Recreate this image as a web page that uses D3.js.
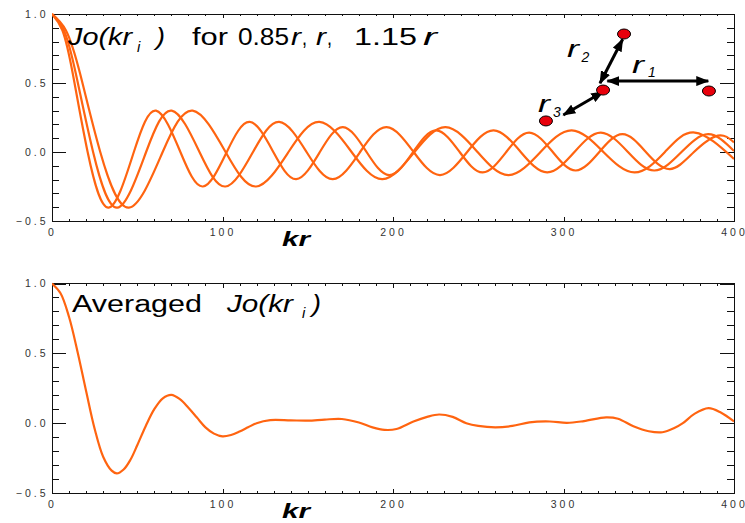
<!DOCTYPE html>
<html>
<head>
<meta charset="utf-8">
<script src="https://cdn.jsdelivr.net/npm/d3@7"></script>
<style>
  body { margin: 0; background: #fff; }
  svg { display: block; font-family: "Liberation Sans", Arial, sans-serif; }
</style>
</head>
<body>
<svg id="chart" width="745" height="523"></svg>
<script>
// ---- datos ----
const xTicks = [0, 100, 200, 300, 400];
const yTicks = [-0.5, 0, 0.5, 1.0];

// Jo(kr) para 0.85r
const kr085 = [0, 8.2, 16.5, 28.3, 45.1, 64.9, 82.5, 101.8, 119.7, 138.7, 156.8, 175.7, 193.8, 212.6,
  230.8, 249.6, 267.8, 286.5, 304.8, 323.4, 341.7, 359.5, 377.0, 400];
const j085 = [1, 0.881, 0.567, 0, -0.403, 0, 0.300, 0, -0.250, 0, 0.218, 0, -0.197, 0,
  0.180, 0, -0.167, 0, 0.157, 0, -0.148, 0, 0.141, -0.050];

// Jo(kr) para r
const kr100 = [0, 7, 14, 24.1, 38.3, 55.2, 70.2, 86.5, 101.7, 117.9, 133.2, 149.3, 164.7, 180.7,
  196.2, 212.1, 227.6, 243.5, 259.0, 274.9, 290.5, 306.4, 321.9, 337.8, 353.3, 369.2, 384.8, 400];
const j100 = [1, 0.881, 0.567, 0, -0.403, 0, 0.300, 0, -0.250, 0, 0.218, 0, -0.197, 0,
  0.180, 0, -0.167, 0, 0.157, 0, -0.148, 0, 0.141, 0, -0.134, 0, 0.129, 0.007];

// Jo(kr) para 1.15r
const kr115 = [0, 6.1, 12.2, 20.9, 33.3, 48.0, 61.0, 75.3, 88.5, 102.5, 115.9, 129.8, 143.2, 157.1,
  170.6, 184.5, 197.9, 211.8, 225.3, 239.1, 252.6, 266.4, 279.9, 293.7, 307.2, 321.0, 334.6, 348.3,
  362.3, 376.5, 390.5, 400];
const j115 = [1, 0.881, 0.567, 0, -0.403, 0, 0.300, 0, -0.250, 0, 0.218, 0, -0.197, 0,
  0.180, 0, -0.167, 0, 0.157, 0, -0.148, 0, 0.141, 0, -0.134, 0, 0.129, 0,
  -0.124, 0, 0.119, 0.070];

// promedio
const krAvg = [0, 5, 10, 15, 20, 25, 30, 35, 38, 42, 46, 50, 55, 60, 65, 70, 75, 80, 85, 90,
  95, 100, 105, 110, 115, 120, 128, 140, 150, 160, 170, 180, 188, 195, 202, 212, 220, 227, 235, 243,
  250, 260, 270, 280, 292, 302, 312, 325, 332, 341, 350, 358, 365, 370, 377, 385, 392, 400];
const jAvg = [1.0, 0.93, 0.76, 0.51, 0.23, -0.04, -0.24, -0.34, -0.36, -0.332, -0.262, -0.158, -0.02, 0.10, 0.178, 0.203, 0.172, 0.11, 0.04, -0.03,
  -0.075, -0.095, -0.085, -0.06, -0.03, 0.0, 0.022, 0.02, 0.018, 0.026, 0.03, 0.005, -0.03, -0.048, -0.042, 0.012, 0.045, 0.062, 0.045, 0.0,
  -0.02, -0.03, -0.02, 0.006, 0.012, 0.002, 0.015, 0.042, 0.032, -0.022, -0.058, -0.065, -0.035, 0.0, 0.068, 0.107, 0.078, 0.012];

// esquema de sensores (en unidades del panel superior: kr, valor)
const dots = [[335.5, 0.855], [323.2, 0.449], [385.3, 0.442], [289.7, 0.225]];
const arrows = [
  [[325.7, 0.514], [384.9, 0.514]],
  [[321.4, 0.498], [334.7, 0.817]],
  [[299.9, 0.268], [323.3, 0.437]]
];
const rLabels = [
  { name: "2", at: [302.1, 0.688], sub: [310.6, 0.652] },
  { name: "1", at: [340.2, 0.569], sub: [349.6, 0.543] },
  { name: "3", at: [285.0, 0.293], sub: [293.8, 0.254] }
];

const lineColor = "#ff6410";
const svg = d3.select("#chart");
const X0 = 52, X1 = 734;

function drawPanel(top, bottom, idx) {
  const x = d3.scaleLinear().domain([0, 400]).range([X0, X1]);
  const y = d3.scaleLinear().domain([-0.5, 1]).range([bottom, top]);
  const g = svg.append("g");

  g.append("clipPath").attr("id", "clip" + idx)
    .append("rect").attr("x", X0).attr("y", top - 2)
    .attr("width", X1 - X0).attr("height", bottom - top + 4);

  // ejes: marcas hacia adentro
  const axes = g.append("g").attr("color", "#111").attr("shape-rendering", "crispEdges");
  const xMinor = d3.range(0, 401, 10);
  const yMinor = d3.range(-5, 11).map(d => d / 10);

  axes.append("g").attr("transform", `translate(0,${bottom})`)
    .call(d3.axisBottom(x).tickValues(xMinor).tickSize(-2).tickFormat(""));
  axes.append("g").attr("transform", `translate(0,${top})`)
    .call(d3.axisTop(x).tickValues(xMinor).tickSize(-2).tickFormat(""));
  axes.append("g").attr("transform", `translate(0,${top})`)
    .call(d3.axisTop(x).tickValues(xTicks).tickSize(-4).tickFormat(""));
  const xb = axes.append("g").attr("transform", `translate(0,${bottom})`)
    .call(d3.axisBottom(x).tickValues(xTicks).tickSize(-4).tickFormat(d3.format("d")));
  xb.selectAll("text").attr("y", 14.5).attr("dy", null);

  axes.append("g").attr("transform", `translate(${X0},0)`)
    .call(d3.axisLeft(y).tickValues(yMinor).tickSize(-6.8).tickFormat(""));
  axes.append("g").attr("transform", `translate(${X1},0)`)
    .call(d3.axisRight(y).tickValues(yMinor).tickSize(-6.8).tickFormat(""));
  axes.append("g").attr("transform", `translate(${X1},0)`)
    .call(d3.axisRight(y).tickValues(yTicks).tickSize(-13.6).tickFormat(""));
  const yl = axes.append("g").attr("transform", `translate(${X0},0)`)
    .call(d3.axisLeft(y).tickValues(yTicks).tickSize(-13.6).tickFormat(d3.format(".1f")));
  yl.selectAll("text").attr("x", -3.5);

  axes.selectAll(".domain").remove();
  axes.selectAll("text")
    .attr("font-family", "'Liberation Sans', Arial, sans-serif")
    .attr("font-size", 10.5)
    .attr("letter-spacing", 3)
    .attr("fill", "#333");

  g.append("rect").attr("x", X0).attr("y", top)
    .attr("width", X1 - X0).attr("height", bottom - top)
    .attr("fill", "none").attr("stroke", "#111").attr("stroke-width", 1)
    .attr("shape-rendering", "crispEdges");

  g.append("text").attr("x", 282).attr("y", bottom + 25)
    .attr("font-size", 21).attr("font-weight", "bold").attr("font-style", "italic")
    .attr("textLength", 28).attr("lengthAdjust", "spacingAndGlyphs")
    .text("kr");

  return { g, x, y, idx };
}

function drawCurve(p, krs, vals, curve) {
  const line = d3.line().x(d => p.x(d[0])).y(d => p.y(d[1])).curve(curve);
  p.g.append("path")
    .datum(d3.zip(krs, vals))
    .attr("clip-path", `url(#clip${p.idx})`)
    .attr("fill", "none")
    .attr("stroke", lineColor)
    .attr("stroke-width", 2.2)
    .attr("stroke-linejoin", "round")
    .attr("d", line);
}

// piezas de texto: [texto, x, ancho, cursiva, dy, tamano]
function textPieces(baseY, pieces, size) {
  const t = svg.append("text").attr("y", baseY).attr("font-size", size).attr("fill", "#000");
  pieces.forEach(pc => {
    const s = t.append("tspan").attr("x", pc[1]).attr("y", baseY + (pc[4] || 0)).text(pc[0]);
    if (pc[2]) s.attr("textLength", pc[2]).attr("lengthAdjust", "spacingAndGlyphs");
    if (pc[3]) s.attr("font-style", "italic");
    if (pc[5]) s.attr("font-size", pc[5]);
  });
}

const topP = drawPanel(14, 221, 0);
const botP = drawPanel(283.5, 493, 1);

drawCurve(topP, kr085, j085, d3.curveNatural);
drawCurve(topP, kr100, j100, d3.curveNatural);
drawCurve(topP, kr115, j115, d3.curveNatural);
drawCurve(botP, krAvg, jAvg, d3.curveCatmullRom.alpha(0.5));

// titulos
textPieces(45, [
  ["Jo(kr", 68, 64, true],
  ["i", 137, 0, true, 7, 15],
  [")", 156, 9, true],
  ["for", 192, 36, false],
  ["0.85", 238, 51, false],
  ["r", 291, 10, true],
  [",", 302, 5, false],
  ["r", 316, 10, true],
  [",", 327, 5, false],
  ["1.15", 354, 63, false],
  ["r", 423, 14, true]
], 23);

textPieces(311.7, [
  ["Averaged", 72, 130, false],
  ["Jo(kr", 227, 66, true],
  ["i", 302, 0, true, 6.5, 15],
  [")", 312, 9, true]
], 23);

// esquema r1, r2, r3
const defs = svg.append("defs");
defs.append("marker").attr("id", "head")
  .attr("viewBox", "0 0 13 10").attr("refX", 12).attr("refY", 5)
  .attr("markerWidth", 13).attr("markerHeight", 10)
  .attr("markerUnits", "userSpaceOnUse")
  .attr("orient", "auto-start-reverse")
  .append("path").attr("d", "M0,0L13,5L0,10Z").attr("fill", "#000");

const ann = topP.g.append("g");
ann.selectAll("line").data(arrows).join("line")
  .attr("x1", d => topP.x(d[0][0])).attr("y1", d => topP.y(d[0][1]))
  .attr("x2", d => topP.x(d[1][0])).attr("y2", d => topP.y(d[1][1]))
  .attr("stroke", "#000").attr("stroke-width", 3)
  .attr("marker-start", "url(#head)").attr("marker-end", "url(#head)");

ann.selectAll("ellipse").data(dots).join("ellipse")
  .attr("cx", d => topP.x(d[0])).attr("cy", d => topP.y(d[1]))
  .attr("rx", 6.5).attr("ry", 5)
  .attr("fill", "#e8000b").attr("stroke", "#000").attr("stroke-width", 1);

rLabels.forEach(l => {
  ann.append("text").attr("x", topP.x(l.at[0])).attr("y", topP.y(l.at[1]))
    .attr("font-size", 23).attr("font-style", "italic")
    .attr("textLength", 12).attr("lengthAdjust", "spacingAndGlyphs").text("r");
  ann.append("text").attr("x", topP.x(l.sub[0])).attr("y", topP.y(l.sub[1]))
    .attr("font-size", 14).attr("font-style", "italic").text(l.name);
});
</script>
</body>
</html>
